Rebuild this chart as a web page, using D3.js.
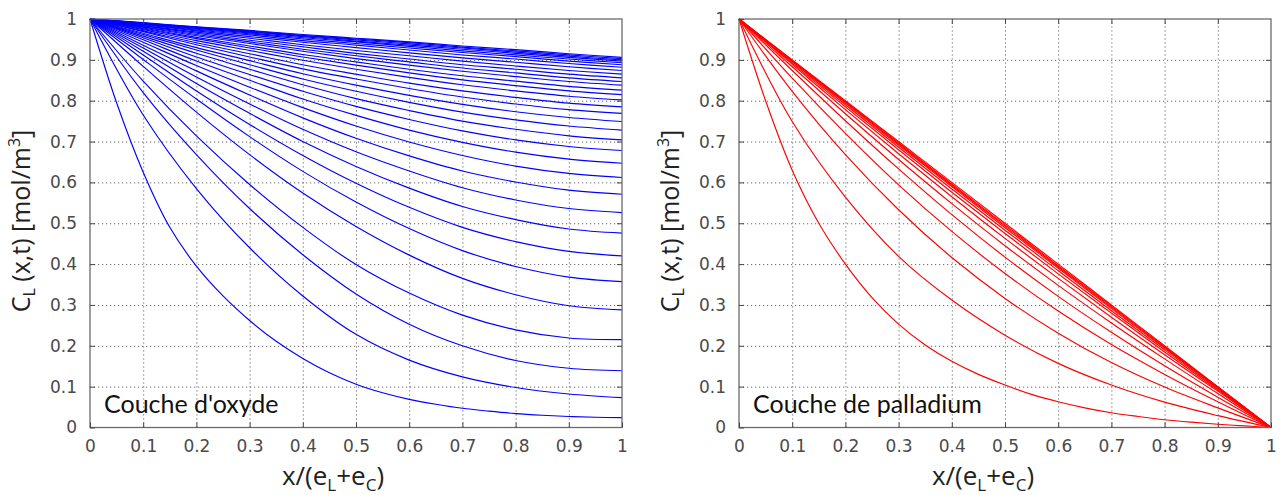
<!DOCTYPE html>
<html><head><meta charset="utf-8">
<script src="https://cdn.jsdelivr.net/npm/d3@7"></script>
<style>body{margin:0;background:#fff;} svg{display:block;}</style>
</head><body>
<svg id="c" width="1284" height="495"></svg>
<script>
// x positions shared by the profiles (x / (eL + eC))
const xs = [0, 0.1, 0.2, 0.3, 0.4, 0.5, 0.6, 0.7, 0.8, 0.9, 1];
// finer x positions, used by the steep early profiles
const xsFine = [0, 0.05, 0.1, 0.15, 0.2, 0.25, 0.3, 0.35, 0.4, 0.45, 0.5, 0.55, 0.6, 0.65, 0.7, 0.75, 0.8, 0.85, 0.9, 0.95, 1];
const tickValues = [0, 0.1, 0.2, 0.3, 0.4, 0.5, 0.6, 0.7, 0.8, 0.9, 1];
const tickLabels = ["0", "0.1", "0.2", "0.3", "0.4", "0.5", "0.6", "0.7", "0.8", "0.9", "1"];

// Concentration profiles, oxide layer (blue); first one on the fine grid
const oxideCurves = [
  [1, .795, .625, .490, .395, .322, .262, .211, .169, .134, .106, .085, .069, .057, .047, .040, .034, .030, .027, .025, .024],
  [1, .765, .585, .440, .322, .228, .165, .124, .098, .082, .073],
  [1, .820, .668, .536, .423, .327, .253, .200, .164, .145, .139],
  [1, .848, .714, .595, .490, .399, .329, .275, .239, .219, .215],
  [1, .884, .772, .668, .574, .492, .422, .365, .325, .298, .288],
  [1, .901, .804, .712, .627, .552, .487, .433, .394, .368, .357],
  [1, .912, .824, .742, .666, .598, .539, .490, .455, .431, .420],
  [1, .921, .842, .769, .700, .639, .586, .541, .509, .486, .476],
  [1, .929, .858, .792, .730, .675, .628, .587, .557, .536, .526],
  [1, .936, .873, .814, .758, .708, .665, .628, .601, .581, .571],
  [1, .943, .886, .833, .783, .738, .699, .666, .640, .622, .612],
  [1, .949, .897, .850, .804, .764, .728, .698, .674, .657, .647],
  [1, .954, .907, .864, .823, .786, .754, .726, .704, .688, .678],
  [1, .958, .916, .877, .839, .805, .776, .750, .730, .714, .704],
  [1, .962, .924, .888, .853, .823, .796, .772, .753, .738, .728],
  [1, .965, .930, .898, .866, .838, .813, .791, .773, .759, .749],
  [1, .969, .937, .907, .878, .853, .830, .809, .792, .778, .769],
  [1, .971, .942, .915, .888, .865, .843, .824, .808, .794, .785],
  [1, .974, .947, .923, .899, .877, .857, .839, .824, .811, .802],
  [1, .976, .952, .929, .907, .887, .868, .851, .837, .824, .815],
  [1, .978, .955, .934, .913, .895, .877, .861, .848, .835, .826],
  [1, .980, .959, .940, .921, .903, .887, .872, .859, .847, .838],
  [1, .981, .962, .944, .926, .910, .895, .880, .868, .856, .847],
  [1, .983, .965, .948, .932, .916, .902, .888, .877, .865, .856],
  [1, .984, .968, .953, .937, .923, .910, .897, .885, .874, .865],
  [1, .986, .971, .957, .943, .930, .917, .905, .894, .883, .874],
  [1, .987, .973, .961, .947, .936, .924, .912, .902, .891, .882],
  [1, .988, .975, .964, .951, .940, .929, .918, .908, .897, .888],
  [1, .989, .977, .966, .954, .944, .933, .922, .912, .902, .893],
  [1, .989, .978, .968, .957, .946, .936, .926, .916, .906, .897],
  [1, .990, .979, .969, .959, .949, .939, .929, .919, .909, .900],
  [1, .990, .980, .971, .960, .951, .942, .931, .922, .912, .903],
  [1, .991, .981, .972, .962, .953, .944, .934, .925, .915, .906]
];

// Concentration profiles, palladium layer (red); first one on the fine grid
const palladiumCurves = [
  [1, .800, .630, .500, .400, .318, .253, .202, .162, .130, .104, .081, .063, .048, .036, .027, .019, .013, .008, .004, 0],
  [1, .749, .564, .419, .312, .226, .157, .104, .062, .029, 0],
  [1, .823, .668, .533, .416, .316, .231, .159, .099, .048, 0],
  [1, .855, .720, .594, .480, .377, .285, .203, .130, .063, 0],
  [1, .874, .751, .633, .521, .417, .321, .233, .151, .074, 0],
  [1, .883, .768, .656, .548, .445, .348, .256, .168, .083, 0],
  [1, .889, .778, .670, .565, .463, .365, .270, .178, .089, 0],
  [1, .892, .785, .680, .576, .475, .376, .280, .185, .092, 0],
  [1, .895, .790, .686, .584, .483, .384, .286, .190, .095, 0],
  [1, .897, .794, .691, .590, .489, .390, .291, .194, .097, 0],
  [1, .898, .796, .694, .593, .493, .393, .294, .196, .098, 0],
  [1, .899, .798, .697, .596, .496, .396, .297, .198, .099, 0],
  [1, .900, .800, .700, .600, .500, .400, .300, .200, .100, 0]
];

const panels = [
  {left: 90, right: 622, color: "#0000ff", curves: oxideCurves, label: "Couche d'oxyde", yTitleX: 30, xTitleX: 333},
  {left: 739, right: 1271, color: "#ff0000", curves: palladiumCurves, label: "Couche de palladium", yTitleX: 679, xTitleX: 983}
];
const plotTop = 19, plotBottom = 427.5;
const svg = d3.select("#c");
const tickFont = "'DejaVu Sans', sans-serif";
const titleFont = "'Open Sans', sans-serif";

panels.forEach(p => {
  const x = d3.scaleLinear().domain([0, 1]).range([p.left, p.right]);
  const y = d3.scaleLinear().domain([0, 1]).range([plotBottom, plotTop]);
  const g = svg.append("g");
  const inner = tickValues.slice(1, -1);

  // dotted grid
  g.append("g").attr("transform", `translate(0,${plotBottom})`)
    .call(d3.axisBottom(x).tickValues(inner).tickSize(-(plotBottom - plotTop)).tickFormat(""))
    .call(s => { s.select(".domain").remove(); s.selectAll("line").attr("stroke", "#666").attr("stroke-dasharray", "1.2,2.8"); });
  g.append("g").attr("transform", `translate(${p.left},0)`)
    .call(d3.axisLeft(y).tickValues(inner).tickSize(-(p.right - p.left)).tickFormat(""))
    .call(s => { s.select(".domain").remove(); s.selectAll("line").attr("stroke", "#666").attr("stroke-dasharray", "1.2,2.8"); });

  // curves
  g.append("g").selectAll("path").data(p.curves).join("path")
    .attr("d", vals => {
      const grid = vals.length === xsFine.length ? xsFine : xs;
      return d3.line().x((d, i) => x(grid[i])).y(d => y(d)).curve(d3.curveCatmullRom.alpha(0.5))(vals);
    })
    .attr("fill", "none").attr("stroke", p.color).attr("stroke-width", 1.15);

  // border
  g.append("rect").attr("x", p.left).attr("y", plotTop).attr("width", p.right - p.left).attr("height", plotBottom - plotTop)
    .attr("fill", "none").attr("stroke", "#6b6b6b").attr("stroke-width", 1.3);

  // axes with inward ticks and labels
  const fmt = (d, i) => tickLabels[i];
  const styleAxis = s => {
    s.select(".domain").remove();
    s.selectAll("line").attr("stroke", "#444");
    s.selectAll("text").attr("font-family", tickFont).attr("font-size", 17).attr("fill", "#4a4a4a");
  };
  g.append("g").attr("transform", `translate(0,${plotBottom})`)
    .call(d3.axisBottom(x).tickValues(tickValues).tickFormat(fmt).tickSizeInner(-5).tickSizeOuter(0).tickPadding(12))
    .call(styleAxis);
  g.append("g").attr("transform", `translate(${p.left},0)`)
    .call(d3.axisLeft(y).tickValues(tickValues).tickFormat(fmt).tickSizeInner(-5).tickSizeOuter(0).tickPadding(13))
    .call(styleAxis);
  g.append("g").attr("transform", `translate(0,${plotTop})`)
    .call(d3.axisTop(x).tickValues(inner).tickFormat("").tickSizeInner(-5).tickSizeOuter(0))
    .call(styleAxis);
  g.append("g").attr("transform", `translate(${p.right},0)`)
    .call(d3.axisRight(y).tickValues(inner).tickFormat("").tickSizeInner(-5).tickSizeOuter(0))
    .call(styleAxis);

  // in-plot label
  g.append("text").attr("x", p.left + 14).attr("y", 413)
    .attr("font-family", "Lato, sans-serif").attr("font-size", 25).attr("fill", "#111")
    .text(p.label);

  // y title
  const yt = g.append("text")
    .attr("transform", `translate(${p.yTitleX},${221}) rotate(-90)`)
    .attr("text-anchor", "middle").attr("font-family", titleFont).attr("font-size", 25).attr("fill", "#222");
  yt.append("tspan").text("C");
  yt.append("tspan").attr("font-size", 16).attr("dy", 5).text("L");
  yt.append("tspan").attr("dy", -5).text(" (x,t) [mol/m");
  yt.append("tspan").attr("font-size", 16).attr("dy", -10).text("3");
  yt.append("tspan").attr("dy", 10).text("]");

  // x title
  const xt = g.append("text").attr("x", p.xTitleX).attr("y", 485)
    .attr("text-anchor", "middle").attr("font-family", titleFont).attr("font-size", 26).attr("fill", "#222");
  xt.append("tspan").text("x/(e");
  xt.append("tspan").attr("font-size", 17).attr("dy", 6).text("L");
  xt.append("tspan").attr("dy", -6).text("+e");
  xt.append("tspan").attr("font-size", 17).attr("dy", 6).text("C");
  xt.append("tspan").attr("dy", -6).text(")");
});
</script>
</body></html>
